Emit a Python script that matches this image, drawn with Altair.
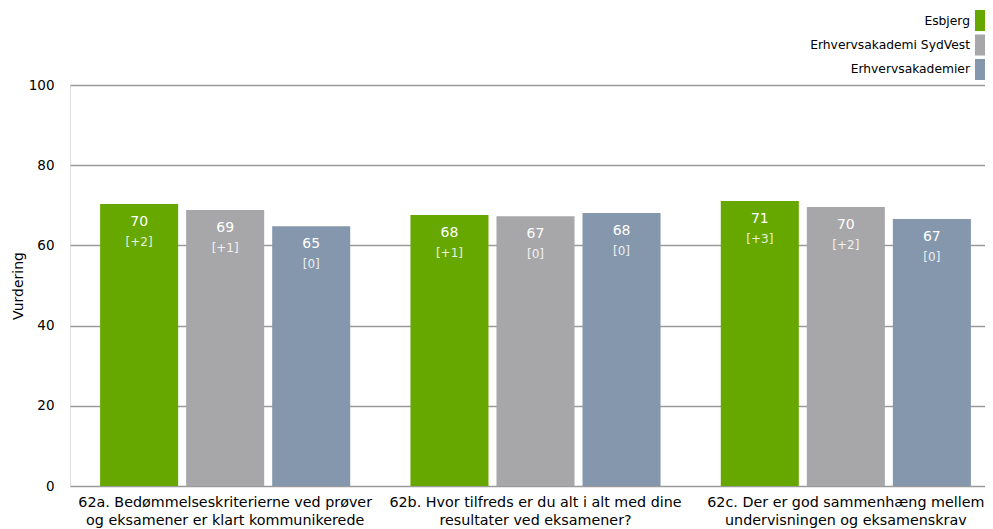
import altair as alt
import pandas as pd

questions = [
    "62a. Bedømmelseskriterierne ved prøver|og eksamener er klart kommunikerede",
    "62b. Hvor tilfreds er du alt i alt med dine|resultater ved eksamener?",
    "62c. Der er god sammenhæng mellem|undervisningen og eksamenskrav",
]
series = ["Esbjerg", "Erhvervsakademi SydVest", "Erhvervsakademier"]
colors = ["#66A800", "#A7A7AA", "#8497AC"]

esbjerg = [70.3, 67.6, 71.1]
sydvest = [68.8, 67.3, 69.6]
akademier = [64.8, 68.1, 66.6]

esbjerg_diff = ["[+2]", "[+1]", "[+3]"]
sydvest_diff = ["[+1]", "[0]", "[+2]"]
akademier_diff = ["[0]", "[0]", "[0]"]

rows = []
for s, vals, diffs in zip(series, [esbjerg, sydvest, akademier],
                          [esbjerg_diff, sydvest_diff, akademier_diff]):
    for q, v, d in zip(questions, vals, diffs):
        rows.append({"question": q, "series": s, "value": v,
                     "label": str(int(round(v))), "diff": d})
df = pd.DataFrame(rows)
legend_df = pd.DataFrame({"series": series})

FONT = "DejaVu Sans"

x_enc = alt.X(
    "question:N", sort=questions,
    scale=alt.Scale(range=[0, 931], paddingInner=0, paddingOuter=0),
    axis=alt.Axis(title=None, labelExpr="split(datum.label, '|')",
                  labelAngle=0, domain=False, ticks=False, labelPadding=9,
                  labelFontSize=14.3, labelColor="#000000", labelLimit=1000,
                  labelBaseline="top", labelLineHeight=18),
)
xoff_enc = alt.XOffset("series:N", sort=series,
                       scale=alt.Scale(paddingInner=0.093, paddingOuter=0.35))
y_enc = alt.Y(
    "value:Q", scale=alt.Scale(domain=[0, 100]),
    axis=alt.Axis(title="Vurdering", values=[0, 20, 40, 60, 80, 100],
                  domain=False, ticks=False, grid=True, gridColor="#9a9a9a",
                  gridWidth=1.5, labelFontSize=13.5, labelColor="#000000",
                  labelPadding=16, titleFontSize=14, titleFontWeight="normal",
                  titleColor="#000000", titlePadding=3),
)
color_enc = alt.Color("series:N", scale=alt.Scale(domain=series, range=colors),
                      legend=None)

base = alt.Chart(df)
bars = base.mark_bar().encode(x=x_enc, xOffset=xoff_enc, y=y_enc, color=color_enc)
val_text = base.mark_text(color="white", fontSize=14, baseline="top", dy=11,
                          font=FONT).encode(
    x=x_enc, xOffset=xoff_enc, y=y_enc, text="label:N")
diff_text = base.mark_text(color="white", fontSize=12, baseline="top", dy=33,
                           opacity=0.85, font=FONT).encode(
    x=x_enc, xOffset=xoff_enc, y=y_enc, text="diff:N")
main = alt.layer(bars, val_text, diff_text)

ly_scale = alt.Scale(type="band", range=[-75, -5], paddingInner=0.14,
                     paddingOuter=0)
leg_rect = alt.Chart(legend_df).mark_rect().encode(
    x=alt.value(905), x2=alt.value(925),
    y=alt.Y("series:N", sort=series, scale=ly_scale, axis=None),
    color=alt.Color("series:N", scale=alt.Scale(domain=series, range=colors),
                    legend=None))
leg_text = alt.Chart(legend_df).mark_text(align="right", baseline="middle",
                                          fontSize=12.3, font=FONT,
                                          color="#000000").encode(
    x=alt.value(900),
    y=alt.Y("series:N", sort=series, bandPosition=0.5, scale=ly_scale, axis=None),
    text="series:N")
legend = alt.layer(leg_rect, leg_text)

chart = alt.layer(main, legend).resolve_scale(y="independent").properties(
    width=915, height=401,
    autosize=alt.AutoSizeParams(type="none"),
    padding={"left": 62, "top": 77, "right": 0, "bottom": 43},
).configure_view(stroke=None).configure(font=FONT)

chart.save("out.html", embed_options={"renderer": "svg", "actions": False})
